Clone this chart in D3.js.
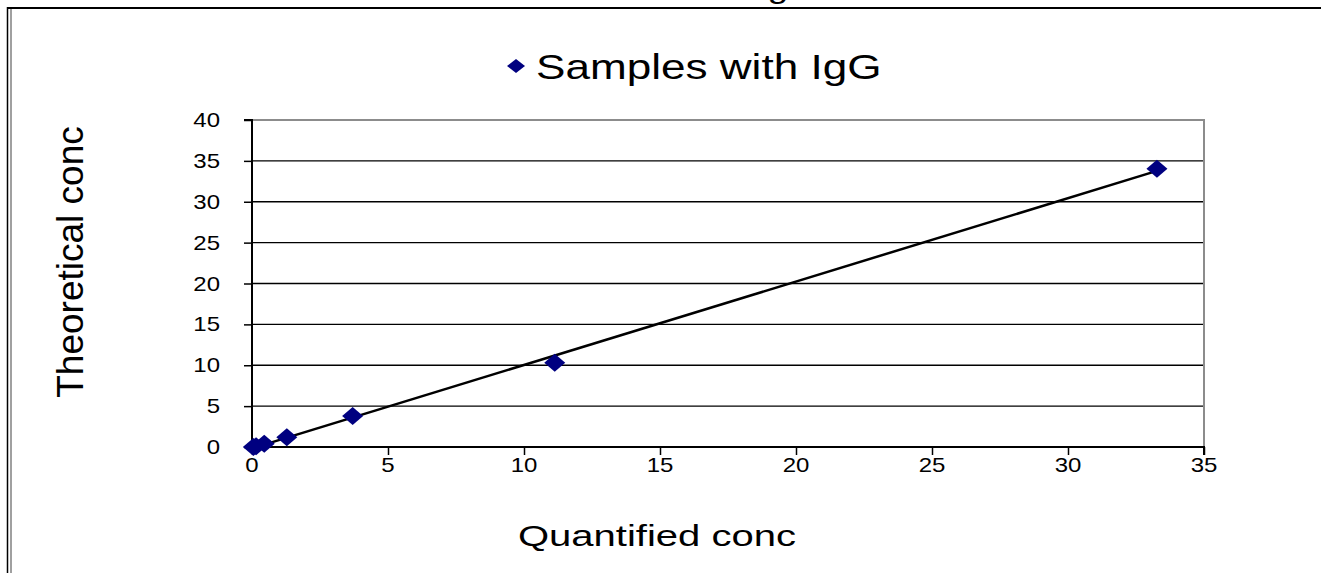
<!DOCTYPE html>
<html>
<head>
<meta charset="utf-8">
<script src="https://cdn.jsdelivr.net/npm/d3@7"></script>
<style>
  body { margin: 0; background: #fff; }
  svg { display: block; font-family: "Liberation Sans", Arial, sans-serif; }
</style>
</head>
<body>
<svg id="chart" width="1321" height="573"></svg>
<script>
// data
const seriesName = "Samples with IgG";
const quantified = [0.05, 0.15, 0.45, 1.28, 3.7, 11.13, 33.27];
const theoretical = [0.0, 0.1, 0.4, 1.2, 3.8, 10.3, 34.05];
const xTicks = [0, 5, 10, 15, 20, 25, 30, 35];
const yTicks = [0, 5, 10, 15, 20, 25, 30, 35, 40];
const xTitle = "Quantified conc";
const yTitle = "Theoretical conc";

const points = quantified.map((q, i) => [q, theoretical[i]]);

const svg = d3.select("#chart");

const xScale = d3.scaleLinear().domain([0, 35]).range([252, 1204]);
const yScale = d3.scaleLinear().domain([0, 40]).range([447, 120]);

// stretched text (the picture is wider than it was drawn)
function label(x, y, str, size, sx, anchor) {
  return svg.append("text")
    .attr("transform", `translate(${x},${y}) scale(${sx},1)`)
    .attr("text-anchor", anchor)
    .style("font-size", size + "px")
    .attr("fill", "#000")
    .text(str);
}

// outer frame
svg.append("line").attr("x1", 7).attr("x2", 1321).attr("y1", 8).attr("y2", 8)
  .attr("stroke", "#000").attr("stroke-width", 2);
svg.append("line").attr("x1", 7.5).attr("x2", 7.5).attr("y1", 7).attr("y2", 573)
  .attr("stroke", "#000").attr("stroke-width", 1.5);
svg.append("line").attr("x1", 11).attr("x2", 11).attr("y1", 9).attr("y2", 573)
  .attr("stroke", "#808080").attr("stroke-width", 1.5);

// title cut off by the top edge, only the descender of its last "g" shows
label(778, -2, "g", 30, 1.25, "middle");

// gridlines
svg.append("g")
  .selectAll("line")
  .data(yTicks.filter(d => d > 0 && d < 40))
  .enter()
  .append("line")
  .attr("x1", xScale(0)).attr("x2", xScale(35))
  .attr("y1", d => yScale(d)).attr("y2", d => yScale(d))
  .attr("stroke", "#000").attr("stroke-width", 1.3);

// plot area top and right border
svg.append("path")
  .attr("d", `M${xScale(0)},${yScale(40)}H${xScale(35)}V${yScale(0)}`)
  .attr("fill", "none").attr("stroke", "#8c8c8c").attr("stroke-width", 2);

// Y axis
const yAxis = d3.axisLeft(yScale).tickValues(yTicks).tickSize(8).tickFormat("");
const gy = svg.append("g")
  .attr("transform", `translate(${xScale(0)},0)`)
  .call(yAxis);
gy.select(".domain").attr("stroke-width", 2).attr("d", `M-8,${yScale(40)}H0V${yScale(0)}`);
gy.selectAll(".tick line").attr("stroke-width", 1.5);

yTicks.forEach(t => label(220, yScale(t) + 7, String(t), 20, 1.2, "end"));

// X axis
const xAxis = d3.axisBottom(xScale).tickValues(xTicks).tickSize(8).tickFormat("");
const gx = svg.append("g")
  .attr("transform", `translate(0,${yScale(0)})`)
  .call(xAxis);
gx.select(".domain").attr("stroke-width", 2).attr("d", `M${xScale(0)},0H${xScale(35)}V8`);
gx.selectAll(".tick line").attr("stroke-width", 1.5);

xTicks.forEach(t => label(xScale(t), 472, String(t), 20, 1.2, "middle"));

// trend line (least squares through the points)
const mx = d3.mean(quantified), my = d3.mean(theoretical);
const slope = d3.sum(points, p => (p[0] - mx) * (p[1] - my)) / d3.sum(points, p => (p[0] - mx) ** 2);
const icpt = my - slope * mx;
const x0 = d3.min(quantified), x1 = d3.max(quantified);

svg.append("line")
  .attr("x1", xScale(x0)).attr("y1", yScale(slope * x0 + icpt))
  .attr("x2", xScale(x1)).attr("y2", yScale(slope * x1 + icpt))
  .attr("stroke", "#000").attr("stroke-width", 2.5);

// markers
const diamond = "M0,-9L10.5,0L0,9L-10.5,0Z";
svg.append("g")
  .selectAll("path")
  .data(points)
  .enter()
  .append("path")
  .attr("d", diamond)
  .attr("transform", d => `translate(${xScale(d[0])},${yScale(d[1])})`)
  .attr("fill", "#000080");

// legend
svg.append("path").attr("d", "M0,-7L9,0L0,7L-9,0Z")
  .attr("transform", "translate(516,66)").attr("fill", "#000080");
label(536, 79, seriesName, 35, 1.26, "start");

// axis titles
label(657, 546, xTitle, 29, 1.38, "middle");
svg.append("text")
  .attr("transform", "translate(83,262) rotate(-90)")
  .attr("text-anchor", "middle")
  .style("font-size", "37px")
  .text(yTitle);
</script>
</body>
</html>
